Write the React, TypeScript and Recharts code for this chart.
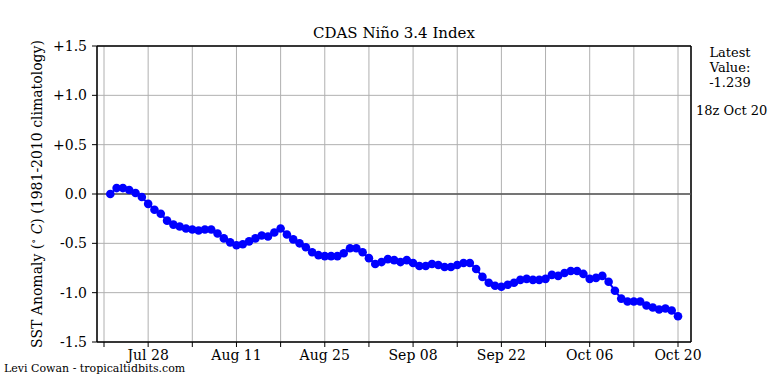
import React from "react";
import {
  LineChart,
  Line,
  XAxis,
  YAxis,
  CartesianGrid,
  ReferenceLine,
} from "recharts";

// daily Niño 3.4 anomaly, Jul 22 -> Oct 20 (day 1 = Jul 22, day 0 = Jul 21)
const anomaly = [
  0.0, 0.06, 0.06, 0.04, 0.01, -0.03, -0.1, -0.16, -0.2, -0.27,
  -0.31, -0.33, -0.35, -0.36, -0.37, -0.36, -0.36, -0.4, -0.45, -0.49,
  -0.52, -0.51, -0.48, -0.45, -0.42, -0.43, -0.39, -0.35, -0.41, -0.46,
  -0.5, -0.54, -0.59, -0.62, -0.63, -0.63, -0.63, -0.6, -0.55, -0.55,
  -0.59, -0.65, -0.71, -0.69, -0.66, -0.67, -0.69, -0.67, -0.7, -0.73,
  -0.73, -0.71, -0.72, -0.74, -0.74, -0.72, -0.7, -0.7, -0.76, -0.84,
  -0.9, -0.93, -0.94, -0.92, -0.9, -0.87, -0.86, -0.87, -0.87, -0.86,
  -0.82, -0.83, -0.8, -0.78, -0.78, -0.81, -0.86, -0.85, -0.83, -0.89,
  -0.98, -1.06, -1.09, -1.09, -1.09, -1.13, -1.15, -1.17, -1.16, -1.18,
  -1.239,
];

const weekTicks = [0, 7, 14, 21, 28, 35, 42, 49, 56, 63, 70, 77, 84, 91];
const labelDays = [7, 21, 35, 49, 63, 77, 91];
const tickLabels = ["Jul 28", "Aug 11", "Aug 25", "Sep 08", "Sep 22", "Oct 06", "Oct 20"];
const yTicks = [-1.5, -1.0, -0.5, 0.0, 0.5, 1.0, 1.5];

const data = anomaly.map((v, i) => ({ day: i + 1, v }));

const font = "'DejaVu Serif', serif";
const xMin = -1.11;
const xMax = 93.06;

const fmtX = (d: number) => {
  const k = labelDays.indexOf(d);
  return k >= 0 ? tickLabels[k] : "";
};
const fmtY = (v: number) => (v > 0 ? "+" + v.toFixed(1) : v.toFixed(1));

const YLabel = () => (
  <text
    x={42}
    y={194}
    transform="rotate(-90 42 194)"
    textAnchor="middle"
    fontFamily={font}
    fontSize={14}
    fill="#000"
  >
    SST Anomaly (<tspan fontSize={10} dy={-5}>∘</tspan>
    <tspan dy={5} fontStyle="italic"> C</tspan>) (1981-2010 climatology)
  </text>
);

export default function App() {
  return (
    <div style={{ position: "absolute", left: 0, top: 0, width: 768, height: 384, background: "#fff", fontFamily: font }}>
      <div style={{ position: "absolute", left: 0, width: 788, top: 24, textAlign: "center", fontSize: 15 }}>
        CDAS Niño 3.4 Index
      </div>
      <LineChart
        width={768}
        height={384}
        data={data}
        margin={{ top: 46, right: 77, bottom: 12, left: 0 }}
      >
        <CartesianGrid stroke="#b0b0b0" strokeWidth={1} />
        <XAxis
          type="number"
          dataKey="day"
          domain={[xMin, xMax]}
          ticks={weekTicks}
          tickFormatter={fmtX}
          interval={0}
          allowDataOverflow
          height={30}
          axisLine={{ stroke: "#000", strokeWidth: 1.5 }}
          tickLine={{ stroke: "#000" }}
          tickSize={5}
          tickMargin={3}
          tick={{ fill: "#000", fontFamily: font, fontSize: 14 }}
        />
        <YAxis
          type="number"
          domain={[-1.5, 1.5]}
          ticks={yTicks}
          tickFormatter={fmtY}
          interval={0}
          width={97}
          axisLine={{ stroke: "#000", strokeWidth: 1.5 }}
          tickLine={{ stroke: "#000" }}
          tickSize={5}
          tickMargin={5}
          tick={{ fill: "#000", fontFamily: font, fontSize: 14 }}
        />
        <ReferenceLine y={1.5} stroke="#000" strokeWidth={1.5} />
        <ReferenceLine x={xMax} stroke="#000" strokeWidth={1.5} />
        <ReferenceLine y={0} stroke="#555" strokeWidth={1.5} />
        <Line
          dataKey="v"
          stroke="#0000ff"
          strokeWidth={2}
          dot={{ r: 4.3, fill: "#0000ff", stroke: "#0000ff", strokeWidth: 0 }}
          isAnimationActive={false}
        />
        <YLabel />
      </LineChart>
      <div style={{ position: "absolute", left: 690, width: 80, top: 45, textAlign: "center", fontSize: 13, lineHeight: "15px" }}>
        Latest
        <br />
        Value:
        <br />
        -1.239
      </div>
      <div style={{ position: "absolute", left: 696, top: 103, fontSize: 13, whiteSpace: "nowrap" }}>
        18z Oct 20
      </div>
      <div style={{ position: "absolute", left: 4, top: 362, fontSize: 11, whiteSpace: "nowrap" }}>
        Levi Cowan - tropicaltidbits.com
      </div>
    </div>
  );
}
